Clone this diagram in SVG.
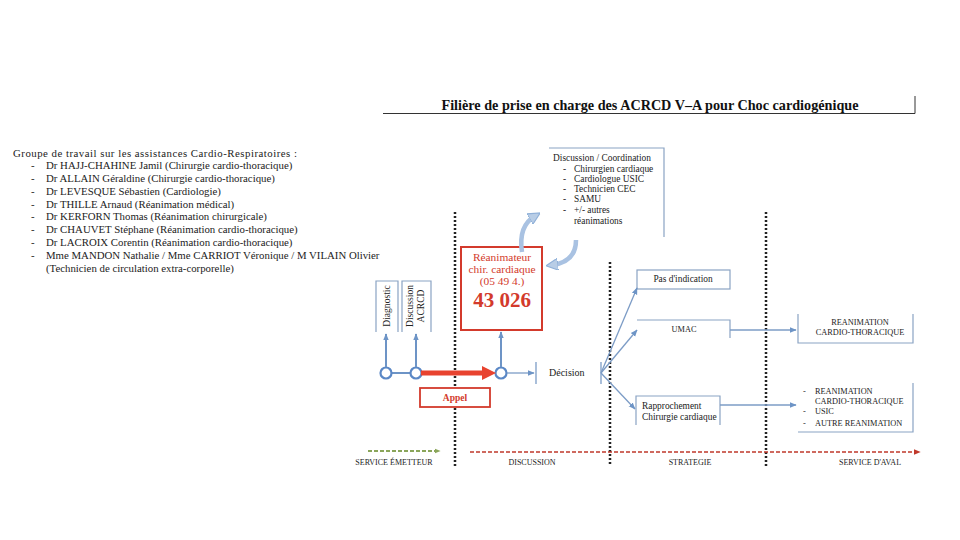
<svg xmlns="http://www.w3.org/2000/svg" width="960" height="540" viewBox="0 0 960 540">
<style>
text{font-family:"Liberation Serif","DejaVu Serif",serif;fill:#222}
.title{font-size:14.2px;font-weight:bold;fill:#111}
.grp{font-size:10.8px}
.sm{font-size:9.4px}
.xs{font-size:9.4px}
.cap{font-size:8.3px}
.rot{font-size:9.6px}
.box{fill:none;stroke:#8aa3c4;stroke-width:1.2}
.rbox{fill:#fff;stroke:#d33a2c;stroke-width:2}
.rt{fill:#d33a2c;font-size:11.4px}
.blue{stroke:#6d94c6;stroke-width:2;fill:none}
.thin{stroke:#7c9cc6;stroke-width:1.3;fill:none}
.dot{stroke:#222;stroke-width:2.5;stroke-dasharray:2 2;fill:none}
.circ{stroke:#5b88c6;stroke-width:2.2;fill:none}
.lbl{font-size:8px;text-anchor:middle}
</style>
<defs>
<marker id="ab" viewBox="0 0 10 10" refX="9" refY="5" markerWidth="7" markerHeight="7" orient="auto" markerUnits="userSpaceOnUse"><path d="M0,1 L10,5 L0,9 z" fill="#6d94c6"/></marker>
<marker id="ar" viewBox="0 0 10 10" refX="9" refY="5" markerWidth="7" markerHeight="7" orient="auto" markerUnits="userSpaceOnUse"><path d="M0,1 L10,5 L0,9 z" fill="#c0392b"/></marker>
<marker id="ag" viewBox="0 0 10 10" refX="9" refY="5" markerWidth="6" markerHeight="6" orient="auto" markerUnits="userSpaceOnUse"><path d="M0,1 L10,5 L0,9 z" fill="#8aa55a"/></marker>
<marker id="ac" viewBox="0 0 10 10" refX="5" refY="5" markerWidth="12" markerHeight="12" orient="auto" markerUnits="userSpaceOnUse"><path d="M0,0 L10,5 L0,10 z" fill="#b8cde6" stroke="#8fb0d8" stroke-width="1"/></marker>
</defs>
<rect width="960" height="540" fill="#fff"/>

<g id="title">
<text class="title" x="650" y="110" text-anchor="middle">Filière de prise en charge des ACRCD V–A pour Choc cardiogénique</text>
<path d="M383 113.5 H915 V96" stroke="#333" stroke-width="1" fill="none"/>
</g>

<g id="groupe">
<text class="grp" x="13" y="157" textLength="284" lengthAdjust="spacing">Groupe de travail sur les assistances Cardio-Respiratoires :</text>
<text class="grp" x="31" y="169">-</text><text class="grp" x="46" y="169">Dr HAJJ-CHAHINE Jamil (Chirurgie cardio-thoracique)</text>
<text class="grp" x="31" y="182">-</text><text class="grp" x="46" y="182">Dr ALLAIN Géraldine (Chirurgie cardio-thoracique)</text>
<text class="grp" x="31" y="195">-</text><text class="grp" x="46" y="195">Dr LEVESQUE Sébastien (Cardiologie)</text>
<text class="grp" x="31" y="208">-</text><text class="grp" x="46" y="208">Dr THILLE Arnaud (Réanimation médical)</text>
<text class="grp" x="31" y="220">-</text><text class="grp" x="46" y="220">Dr KERFORN Thomas (Réanimation chirurgicale)</text>
<text class="grp" x="31" y="233">-</text><text class="grp" x="46" y="233">Dr CHAUVET Stéphane (Réanimation cardio-thoracique)</text>
<text class="grp" x="31" y="246">-</text><text class="grp" x="46" y="246">Dr LACROIX Corentin (Réanimation cardio-thoracique)</text>
<text class="grp" x="31" y="259">-</text><text class="grp" x="46" y="259">Mme MANDON Nathalie / Mme CARRIOT Véronique / M VILAIN Olivier</text>
<text class="grp" x="46" y="272">(Technicien de circulation extra-corporelle)</text>
</g>

<g id="discussion">
<path class="box" d="M549 148 H664 V237"/>
<text class="sm" x="553" y="161">Discussion / Coordination</text>
<text class="sm" x="563" y="172">-</text><text class="sm" x="574" y="172">Chirurgien cardiaque</text>
<text class="sm" x="563" y="182">-</text><text class="sm" x="574" y="182">Cardiologue USIC</text>
<text class="sm" x="563" y="192">-</text><text class="sm" x="574" y="192">Technicien CEC</text>
<text class="sm" x="563" y="202">-</text><text class="sm" x="574" y="202">SAMU</text>
<text class="sm" x="563" y="213">-</text><text class="sm" x="574" y="213">+/- autres</text>
<text class="sm" x="574" y="224">réanimations</text>
</g>

<g id="separators">
<line class="dot" x1="455" y1="212" x2="455" y2="466"/>
<line class="dot" x1="610" y1="262" x2="610" y2="466"/>
<line class="dot" x1="766" y1="212" x2="766" y2="466"/>
</g>

<g id="reanimateur">
<rect class="rbox" x="461" y="247" width="81" height="83"/>
<text class="rt" x="502" y="261" text-anchor="middle">Réanimateur</text>
<text class="rt" x="502" y="273" text-anchor="middle">chir. cardiaque</text>
<text class="rt" x="502" y="285" text-anchor="middle">(05 49 4.)</text>
<text x="502" y="307" text-anchor="middle" style="fill:#d33a2c;font-size:21px;font-weight:bold">43 026</text>
</g>

<g id="diagnostic">
<path class="box" d="M376 332 V281 H398 V332"/>
<text transform="translate(390 306) rotate(-90)" text-anchor="middle" class="rot">Diagnostic</text>
</g>
<g id="discussion-acrcd">
<path class="box" d="M402 332 V281 H431 V332"/>
<text transform="translate(413 306) rotate(-90)" text-anchor="middle" class="rot">Discussion</text>
<text transform="translate(424 306) rotate(-90)" text-anchor="middle" class="rot">ACRCD</text>
</g>

<g id="appel">
<rect x="420" y="388" width="70" height="19" fill="#fff" stroke="#d33a2c" stroke-width="1.8"/>
<text x="455" y="401" text-anchor="middle" style="fill:#d33a2c;font-size:9.5px;font-weight:bold">Appel</text>
</g>

<g id="decision">
<text x="549" y="376" style="font-size:10px">Décision</text>
</g>

<g id="pas-indication">
<rect class="box" x="637" y="270" width="93" height="19"/>
<text class="xs" x="683" y="282" text-anchor="middle">Pas d'indication</text>
</g>
<g id="umac">
<path class="box" d="M637 320 H730 V338"/>
<text class="cap" x="684" y="332" text-anchor="middle">UMAC</text>
</g>
<g id="rapprochement">
<path class="box" d="M636 425 V396 H720 V425"/>
<text class="xs" x="642" y="409">Rapprochement</text>
<text class="xs" x="642" y="420">Chirurgie cardiaque</text>
</g>
<g id="reanimation-ct">
<path class="box" d="M798 314 V343 H913 V314"/>
<text class="cap" x="860" y="325" text-anchor="middle">REANIMATION</text>
<text class="cap" x="860" y="335" text-anchor="middle">CARDIO-THORACIQUE</text>
</g>
<g id="aval-list">
<path class="box" d="M798 432 H913 V383"/>
<text class="cap" x="803" y="394">-</text><text class="cap" x="815" y="394">REANIMATION</text>
<text class="cap" x="815" y="404">CARDIO-THORACIQUE</text>
<text class="cap" x="803" y="414">-</text><text class="cap" x="815" y="414">USIC</text>
<text class="cap" x="803" y="426">-</text><text class="cap" x="815" y="426">AUTRE REANIMATION</text>
</g>

<g id="connectors">
<line class="blue" x1="391" y1="373" x2="411" y2="373"/>
<circle class="circ" cx="386" cy="373" r="5.5"/>
<circle class="circ" cx="416" cy="373" r="5.5"/>
<circle class="circ" cx="501" cy="373" r="5.5"/>
<line class="blue" x1="386" y1="367" x2="386" y2="334" marker-end="url(#ab)"/>
<line class="blue" x1="416" y1="367" x2="416" y2="334" marker-end="url(#ab)"/>
<line class="blue" x1="501" y1="367" x2="501" y2="332" marker-end="url(#ab)"/>
<line x1="421" y1="373" x2="484" y2="373" stroke="#e8432f" stroke-width="5"/>
<path d="M482 366 L496 373 L482 380 z" fill="#e8432f"/>
<line class="thin" x1="507" y1="373" x2="534" y2="373" marker-end="url(#ab)"/>
<line class="thin" x1="536" y1="362" x2="536" y2="384"/>
<line class="thin" x1="601" y1="362" x2="601" y2="384"/>
<line class="thin" x1="601" y1="373" x2="637" y2="288" marker-end="url(#ab)"/>
<line class="thin" x1="601" y1="373" x2="637" y2="330" marker-end="url(#ab)"/>
<line class="thin" x1="601" y1="373" x2="635" y2="409" marker-end="url(#ab)"/>
<line class="thin" x1="730" y1="330" x2="796" y2="330" marker-end="url(#ab)"/>
<line class="thin" x1="720" y1="405" x2="796" y2="405" marker-end="url(#ab)"/>
<path d="M522 252 Q518 226 535 216" stroke="#a9c2e2" stroke-width="4.5" fill="none" marker-end="url(#ac)"/>
<path d="M576 240 Q576 262 552 265" stroke="#a9c2e2" stroke-width="4.5" fill="none" marker-end="url(#ac)"/>
<line x1="368" y1="451" x2="440" y2="451" stroke="#8aa55a" stroke-width="2" stroke-dasharray="4 2" marker-end="url(#ag)"/>
<line x1="470" y1="452" x2="920" y2="452" stroke="#c0392b" stroke-width="1.5" stroke-dasharray="4 2" marker-end="url(#ar)"/>
</g>

<g id="phases">
<text class="lbl" x="394" y="465">SERVICE ÉMETTEUR</text>
<text class="lbl" x="532" y="465">DISCUSSION</text>
<text class="lbl" x="690" y="465">STRATEGIE</text>
<text class="lbl" x="870" y="465">SERVICE D'AVAL</text>
</g>
</svg>
